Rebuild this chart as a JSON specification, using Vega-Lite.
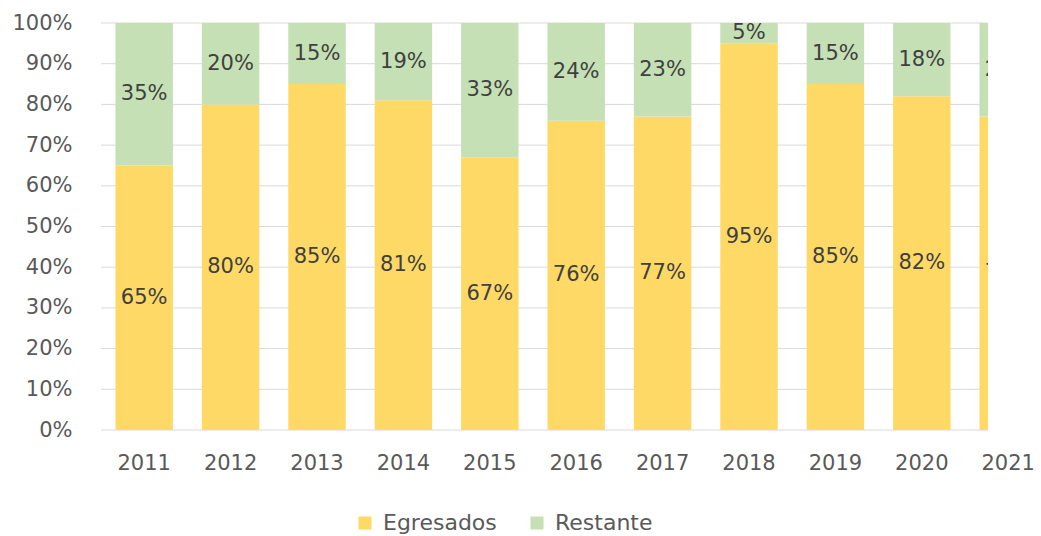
{
  "$schema": "https://vega.github.io/schema/vega-lite/v6.json",
  "width": 887,
  "height": 407,
  "autosize": {"type": "none"},
  "padding": {"left": 101, "top": 23, "right": 53, "bottom": 106},
  "background": "white",
  "config": {
    "view": {"stroke": null},
    "font": "DejaVu Sans",
    "axisX": {"labelAngle": 0, "ticks": false, "domain": false, "grid": false, "labelPadding": 22, "labelColor": "#595959", "labelFontSize": 21, "labelFont": "DejaVu Sans", "labelOverlap": false},
    "axisY": {"ticks": false, "domain": false, "grid": false, "labelPadding": 29, "labelColor": "#595959", "labelFontSize": 21, "labelFont": "DejaVu Sans", "values": [0, 0.1, 0.2, 0.3, 0.4, 0.5, 0.6, 0.7, 0.8, 0.9, 1], "format": ".0%"},
    "legend": {"labelFontSize": 22, "labelColor": "#595959", "labelFont": "DejaVu Sans", "symbolType": "square", "symbolSize": 170, "symbolStrokeWidth": 0, "columnPadding": 29, "labelOffset": 7}
  },
  "datasets": {
    "grid": [{"g": 0}, {"g": 0.1}, {"g": 0.2}, {"g": 0.3}, {"g": 0.4}, {"g": 0.5}, {"g": 0.6}, {"g": 0.7}, {"g": 0.8}, {"g": 0.9}, {"g": 1}],
    "main": [
      {"year": "2011", "serie": "Egresados", "value": 0.65}, {"year": "2011", "serie": "Restante", "value": 0.35},
      {"year": "2012", "serie": "Egresados", "value": 0.80}, {"year": "2012", "serie": "Restante", "value": 0.20},
      {"year": "2013", "serie": "Egresados", "value": 0.85}, {"year": "2013", "serie": "Restante", "value": 0.15},
      {"year": "2014", "serie": "Egresados", "value": 0.81}, {"year": "2014", "serie": "Restante", "value": 0.19},
      {"year": "2015", "serie": "Egresados", "value": 0.67}, {"year": "2015", "serie": "Restante", "value": 0.33},
      {"year": "2016", "serie": "Egresados", "value": 0.76}, {"year": "2016", "serie": "Restante", "value": 0.24},
      {"year": "2017", "serie": "Egresados", "value": 0.77}, {"year": "2017", "serie": "Restante", "value": 0.23},
      {"year": "2018", "serie": "Egresados", "value": 0.95}, {"year": "2018", "serie": "Restante", "value": 0.05},
      {"year": "2019", "serie": "Egresados", "value": 0.85}, {"year": "2019", "serie": "Restante", "value": 0.15},
      {"year": "2020", "serie": "Egresados", "value": 0.82}, {"year": "2020", "serie": "Restante", "value": 0.18},
      {"year": "2021", "serie": "Egresados", "value": 0.77}, {"year": "2021", "serie": "Restante", "value": 0.23}
    ]
  },
  "layer": [
    {
      "data": {"name": "grid"},
      "mark": {"type": "rule", "color": "#D9D9D9", "strokeWidth": 1},
      "encoding": {
        "y": {"field": "g", "type": "quantitative", "title": null, "scale": {"domain": [0, 1], "nice": false}}
      }
    },
    {
      "data": {"name": "main"},
      "mark": {"type": "bar", "clip": true},
      "encoding": {
        "x": {"field": "year", "type": "nominal", "title": null, "scale": {"paddingInner": 0.335, "paddingOuter": 0.1675, "range": [0, 950.4]}},
        "y": {"field": "value", "type": "quantitative", "stack": "zero", "title": null, "scale": {"domain": [0, 1], "nice": false}},
        "order": {"field": "serie", "sort": "ascending"},
        "color": {
          "field": "serie", "type": "nominal", "title": null,
          "scale": {"domain": ["Egresados", "Restante"], "range": ["#FFD966", "#C5E0B4"]},
          "legend": {"orient": "none", "legendX": 253, "legendY": 489, "direction": "horizontal", "title": null}
        }
      }
    },
    {
      "data": {"name": "main"},
      "mark": {"type": "text", "clip": true, "fontSize": 21, "color": "#404040", "font": "DejaVu Sans", "baseline": "middle"},
      "encoding": {
        "x": {"field": "year", "type": "nominal", "title": null, "scale": {"paddingInner": 0.335, "paddingOuter": 0.1675, "range": [0, 950.4]}},
        "y": {"field": "value", "type": "quantitative", "stack": "zero", "bandPosition": 0.5, "title": null, "scale": {"domain": [0, 1], "nice": false}},
        "detail": {"field": "serie", "type": "nominal"},
        "order": {"field": "serie", "sort": "ascending"},
        "text": {"field": "value", "type": "quantitative", "format": ".0%"}
      }
    }
  ]
}
